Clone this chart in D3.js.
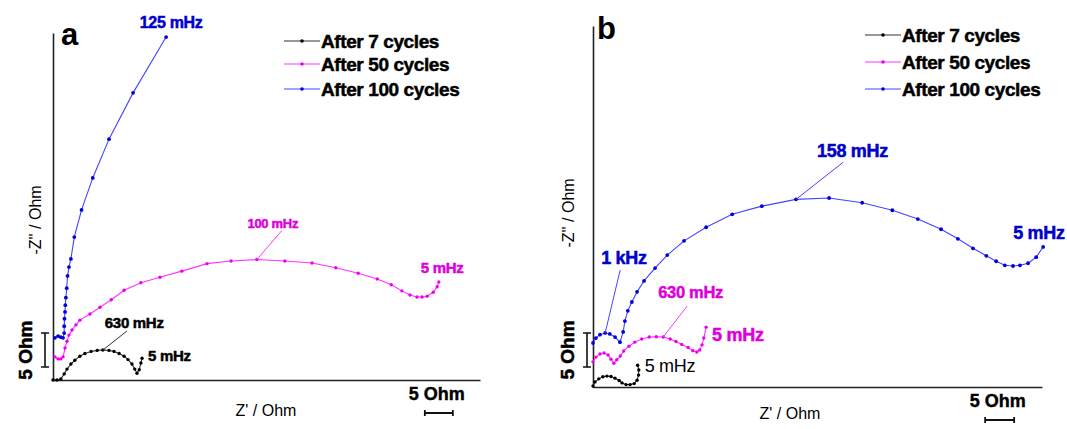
<!DOCTYPE html>
<html>
<head>
<meta charset="utf-8">
<script src="https://cdn.jsdelivr.net/npm/d3@7"></script>
<style>
  html, body { margin: 0; padding: 0; background: #fff; }
  svg { display: block; font-family: "Liberation Sans", Arial, sans-serif; }
</style>
</head>
<body>
<svg id="chart" width="1067" height="429"></svg>
<script>
// Nyquist data, [Z' (Ohm), -Z'' (Ohm)], curves stacked with a vertical offset
const seriesNames = ["After 7 cycles", "After 50 cycles", "After 100 cycles"];

// Panel a
const a7 = [[0,0],[0.7,0],[1.4,0.15],[2.0,0.9],[2.5,1.6],[3.2,2.35],[3.9,2.9],[4.8,3.5],[5.7,3.9],[6.8,4.2],[7.9,4.35],[8.9,4.4],[10.0,4.35],[10.9,4.2],[11.8,3.9],[12.7,3.5],[13.4,3.0],[14.1,2.35],[14.6,1.6],[15.0,1.0],[15.4,1.5],[15.7,2.5],[15.9,3.2]];
const a50 = [[0.35,3.4],[0.9,3.1],[1.4,3.1],[1.8,3.4],[2.15,4.7],[2.5,5.7],[2.85,6.6],[3.4,7.35],[4.1,8.1],[4.8,8.8],[6.6,9.7],[8.4,10.7],[10.4,11.8],[12.7,13.2],[15.7,14.3],[19.1,15.1],[23.0,16.0],[27.5,17.1],[31.8,17.5],[36.4,17.7],[41.4,17.5],[46.25,17.2],[50.5,16.5],[54.5,15.7],[57.9,14.85],[60.4,14.0],[62.3,13.1],[63.75,12.5],[65.0,12.2],[65.9,12.2],[66.8,12.3],[67.9,12.9],[68.6,13.7],[68.9,14.4]];
const a100 = [[0.35,6.2],[0.9,6.45],[1.4,6.3],[1.8,6.2],[2.0,6.9],[2.0,7.9],[2.05,9.0],[2.15,10.0],[2.2,11.0],[2.3,12.1],[2.45,13.5],[2.6,15.3],[2.85,16.6],[3.2,17.8],[3.8,21.0],[5.1,25.0],[7.1,29.7],[10.0,35.4],[14.3,42.2],[20.2,50.4]];

// Panel b
const b7 = [[0,0.15],[0.35,0.75],[1.0,1.2],[1.7,1.5],[2.4,1.6],[3.1,1.55],[3.8,1.3],[4.5,0.95],[5.0,0.6],[5.7,0.35],[6.4,0.35],[7.1,0.5],[7.6,1.0],[7.85,1.75],[7.9,2.5],[7.7,3.2]];
const b50 = [[0,3.7],[0.5,4.4],[1.2,4.85],[1.9,5.0],[2.6,4.7],[3.1,4.1],[3.6,3.5],[4.1,4.0],[4.7,4.55],[5.3,5.3],[6.2,6.0],[7.2,6.6],[8.4,7.05],[9.7,7.35],[10.9,7.4],[12.1,7.35],[13.3,7.05],[14.3,6.7],[15.3,6.25],[16.4,5.8],[17.2,5.35],[17.9,5.15],[18.4,5.45],[18.8,6.2],[19.1,7.2],[19.5,8.8]];
const b100 = [[0,6.47],[0.5,7.2],[1.2,7.7],[2.1,7.95],[2.9,7.8],[3.8,7.35],[4.65,6.6],[5.2,8.1],[5.5,9.7],[6.0,11.2],[6.7,12.5],[7.6,14.0],[8.8,15.6],[10.7,17.5],[12.8,19.4],[15.7,21.5],[19.5,23.5],[24.0,25.4],[29.1,26.6],[35.0,27.6],[40.7,27.8],[46.4,27.1],[51.6,26.0],[56.0,24.7],[60.0,23.2],[62.9,21.8],[65.5,20.4],[67.8,19.3],[69.5,18.5],[71.0,17.9],[72.4,17.8],[73.6,17.9],[75.0,18.2],[76.4,19.1],[77.6,20.6]];

// Frequency labels: series index, point index, text
const notesA = [
  { s: 2, i: -1, text: "125 mHz", size: 16, weight: "bold", anchor: "middle", dx: 5, dy: -9 },
  { s: 0, i: 11, text: "630 mHz", size: 15, weight: "bold", anchor: "start", dx: 2, dy: -22, lx: 24, ly: -19 },
  { s: 0, i: -1, text: "5 mHz", size: 15, weight: "bold", anchor: "start", dx: 6, dy: 3 },
  { s: 1, i: 19, text: "100 mHz", size: 13, weight: "bold", anchor: "middle", dx: 16, dy: -32, lx: 25, ly: -29 },
  { s: 1, i: -1, text: "5 mHz", size: 15, weight: "bold", anchor: "start", dx: -18, dy: -9 }
];
const notesB = [
  { s: 2, i: 3, text: "1 kHz", size: 18, weight: "bold", anchor: "start", dx: -4, dy: -69, lx: 15, ly: -63 },
  { s: 2, i: 19, text: "158 mHz", size: 18, weight: "bold", anchor: "start", dx: 21, dy: -42, lx: 47, ly: -37 },
  { s: 2, i: -1, text: "5 mHz", size: 18, weight: "bold", anchor: "start", dx: -30, dy: -8 },
  { s: 1, i: 15, text: "630 mHz", size: 16.5, weight: "bold", anchor: "start", dx: -5, dy: -39, lx: 24, ly: -31 },
  { s: 1, i: -1, text: "5 mHz", size: 18, weight: "bold", anchor: "start", dx: 6, dy: 14 },
  { s: 0, i: -1, text: "5 mHz", size: 18, weight: "normal", anchor: "start", dx: 7, dy: 7 }
];

const lineColors = ["#333333", "#ff33ff", "#4444ff"];
const dotColors = ["#000000", "#ee00ee", "#0000dd"];
const textColors = ["#000000", "#dd00dd", "#0000cc"];
const dotRadius = [1.7, 1.7, 1.9];

const svg = d3.select("#chart");

// heavier lettering for the bold labels
function heavy(sel, color, w) {
  return sel.attr("stroke", color).attr("stroke-width", w).attr("paint-order", "stroke");
}

function drawPanel(cfg) {
  const g = svg.append("g");
  const x = d3.scaleLinear().domain(cfg.xDomain).range(cfg.xRange);
  const y = d3.scaleLinear().domain(cfg.yDomain).range(cfg.yRange);
  const x0 = cfg.xRange[0], y0 = cfg.yRange[0];

  // axes: bare lines, no ticks
  g.append("g").attr("transform", `translate(0,${y0})`)
    .call(d3.axisBottom(x).ticks(0).tickSizeOuter(0))
    .select(".domain").attr("stroke", "#222").attr("stroke-width", 1.6);
  g.append("g").attr("transform", `translate(${x0},0)`)
    .call(d3.axisLeft(y).ticks(0).tickSizeOuter(0))
    .select(".domain").attr("stroke", "#222").attr("stroke-width", 1.6);

  const line = d3.line().x(d => x(d[0])).y(d => y(d[1]));
  cfg.series.forEach((data, k) => {
    g.append("path").datum(data).attr("d", line)
      .attr("fill", "none").attr("stroke", lineColors[k]).attr("stroke-width", 1.1);
    g.selectAll(null).data(data).enter().append("circle")
      .attr("cx", d => x(d[0])).attr("cy", d => y(d[1]))
      .attr("r", dotRadius[k]).attr("fill", dotColors[k]);
  });

  // frequency labels with leader lines
  cfg.notes.forEach(n => {
    const data = cfg.series[n.s];
    const p = data[n.i < 0 ? data.length + n.i : n.i];
    const px = x(p[0]), py = y(p[1]);
    if (n.lx !== undefined) {
      g.append("line").attr("x1", px).attr("y1", py)
        .attr("x2", px + n.lx).attr("y2", py + n.ly)
        .attr("stroke", lineColors[n.s]).attr("stroke-width", 1);
    }
    const t = g.append("text").attr("x", px + n.dx).attr("y", py + n.dy)
      .attr("text-anchor", n.anchor).attr("font-size", n.size)
      .attr("font-weight", n.weight).attr("fill", textColors[n.s])
      .attr("letter-spacing", -0.3)
      .text(n.text);
    if (n.weight === "bold") heavy(t, textColors[n.s], 0.5);
  });

  // panel letter
  g.append("text").attr("x", cfg.letter[0]).attr("y", cfg.letter[1])
    .attr("font-size", 31).attr("font-weight", "bold").text(cfg.name);

  // legend
  seriesNames.forEach((name, k) => {
    const ly = cfg.legend[1] + cfg.legendRows[k];
    const lx = cfg.legend[0];
    g.append("line").attr("x1", lx).attr("x2", lx + 36).attr("y1", ly).attr("y2", ly)
      .attr("stroke", lineColors[k]).attr("stroke-width", 1.2);
    g.append("circle").attr("cx", lx + 18).attr("cy", ly).attr("r", 1.8).attr("fill", dotColors[k]);
    heavy(g.append("text").attr("x", lx + 37).attr("y", ly + 7)
      .attr("font-size", 19).attr("font-weight", "bold").attr("letter-spacing", -0.4)
      .text(name), "#000", 0.5);
  });

  // axis titles
  g.append("text").attr("x", cfg.xTitle[0]).attr("y", cfg.xTitle[1])
    .attr("text-anchor", "middle").attr("font-size", 16).text("Z' / Ohm");
  g.append("text").attr("transform", `translate(${cfg.yTitle[0]},${cfg.yTitle[1]}) rotate(-90)`)
    .attr("text-anchor", "middle").attr("font-size", 16).text("-Z'' / Ohm");

  // 5 Ohm scale bars, sized from the scales
  const hb = cfg.hBar, hx1 = x(hb[0]), hx2 = x(hb[0] + 5), hy = y0 + hb[1];
  g.append("path").attr("d", `M${hx1},${hy}H${hx2}M${hx1},${hy - 3}V${hy + 3}M${hx2},${hy - 3}V${hy + 3}`)
    .attr("stroke", "#111").attr("stroke-width", 1.8).attr("fill", "none");
  heavy(g.append("text").attr("x", (hx1 + hx2) / 2 - 2).attr("y", hy - 13)
    .attr("text-anchor", "middle").attr("font-size", 18).attr("font-weight", "bold").text("5 Ohm"), "#000", 0.4);

  const vb = cfg.vBar, vy1 = y(vb[0]), vy2 = y(vb[0] + 5), vx = x0 + vb[1];
  g.append("path").attr("d", `M${vx},${vy1}V${vy2}M${vx - 4},${vy1}H${vx + 4}M${vx - 4},${vy2}H${vx + 4}`)
    .attr("stroke", "#111").attr("stroke-width", 1.6).attr("fill", "none");
  heavy(g.append("text").attr("transform", `translate(${vx - 13},${(vy1 + vy2) / 2}) rotate(-90)`)
    .attr("text-anchor", "middle").attr("font-size", 19).attr("font-weight", "bold").text("5 Ohm"), "#000", 0.5);
}

drawPanel({
  name: "a", letter: [61, 45],
  series: [a7, a50, a100], notes: notesA,
  xDomain: [0, 76.25], xRange: [53, 480],
  yDomain: [0, 51], yRange: [380, 33],
  legend: [284, 41], legendRows: [0, 23, 48],
  xTitle: [266, 416], yTitle: [41, 220],
  hBar: [66.4, 33], vBar: [1.9, -8]
});

drawPanel({
  name: "b", letter: [597, 39],
  series: [b7, b50, b100], notes: notesB,
  xDomain: [0, 77.4], xRange: [593, 1042],
  yDomain: [0, 53.1], yRange: [387, 26],
  legend: [865, 35], legendRows: [0, 27, 54],
  xTitle: [790, 419], yTitle: [574, 213],
  hBar: [67.6, 33], vBar: [2.94, -6]
});
</script>
</body>
</html>
